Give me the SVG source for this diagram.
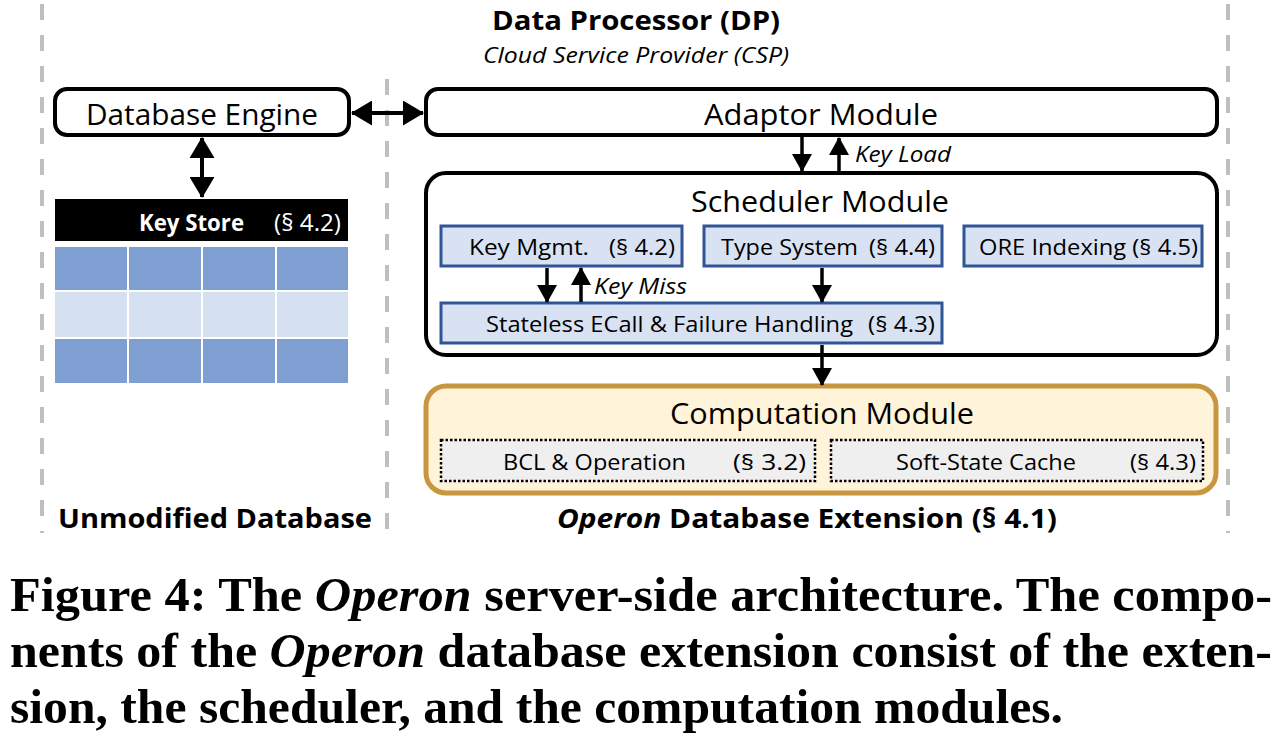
<svg xmlns="http://www.w3.org/2000/svg" width="1285" height="743" viewBox="0 0 1285 743">
<style>
.sans{font-family:"Open Sans","Noto Sans","Liberation Sans",sans-serif;fill:#000}
.b{font-weight:bold}
.i{font-style:italic}
.box{fill:#fff;stroke:#000;stroke-width:4}
.sub{fill:#d9e2f2;stroke:#2f5597;stroke-width:3}
.dot{fill:#efefef;stroke:#000;stroke-width:2.5;stroke-dasharray:2.5 2}
.sep{stroke:#bfbfbf;stroke-width:4;stroke-dasharray:16 15;fill:none}
.ln{stroke:#000;stroke-width:3.5;fill:none}
.lnb{stroke:#000;stroke-width:4;fill:none}
.cap{font-family:"Liberation Serif","DejaVu Serif",serif;font-weight:bold;font-size:48px;fill:#000}
</style>
<defs>
<marker id="ah" viewBox="0 0 18 20" refX="17" refY="10" markerWidth="18" markerHeight="20" markerUnits="userSpaceOnUse" orient="auto-start-reverse">
<path d="M0,0 L18,10 L0,20 z" fill="#000"/>
</marker>
<marker id="ahb" viewBox="0 0 21 25" refX="20" refY="12.5" markerWidth="21" markerHeight="25" markerUnits="userSpaceOnUse" orient="auto-start-reverse">
<path d="M0,0 L21,12.5 L0,25 z" fill="#000"/>
</marker>
</defs>
<rect width="1285" height="743" fill="#fff"/>

<g id="separators">
<line class="sep" x1="42" y1="4" x2="42" y2="533"/>
<line class="sep" x1="387" y1="79" x2="387" y2="533"/>
<line class="sep" x1="1228" y1="4" x2="1228" y2="533"/>
</g>

<g id="header">
<text class="sans b" x="636" y="30" font-size="26" text-anchor="middle" textLength="288" lengthAdjust="spacingAndGlyphs">Data Processor (DP)</text>
<text class="sans i" x="636" y="63" font-size="22" text-anchor="middle" textLength="306" lengthAdjust="spacingAndGlyphs">Cloud Service Provider (CSP)</text>
</g>

<g id="database-engine">
<rect class="box" x="55" y="89" width="294" height="46" rx="12"/>
<text class="sans" x="202" y="125" font-size="29" text-anchor="middle" textLength="232" lengthAdjust="spacingAndGlyphs">Database Engine</text>
</g>

<g id="key-store">
<rect x="55" y="199" width="293" height="42" fill="#000"/>
<text class="sans b" x="139" y="231" font-size="23" style="fill:#fff" textLength="105" lengthAdjust="spacingAndGlyphs">Key Store</text>
<text class="sans" x="274" y="231" font-size="23" style="fill:#fff" textLength="67" lengthAdjust="spacingAndGlyphs">(§ 4.2)</text>
<g fill="#7f9fd3">
<rect x="55" y="247" width="72" height="43"/><rect x="129" y="247" width="72" height="43"/><rect x="203" y="247" width="72" height="43"/><rect x="277" y="247" width="71" height="43"/>
<rect x="55" y="339" width="72" height="44"/><rect x="129" y="339" width="72" height="44"/><rect x="203" y="339" width="72" height="44"/><rect x="277" y="339" width="71" height="44"/>
</g>
<g fill="#d5e0f0">
<rect x="55" y="292" width="72" height="45"/><rect x="129" y="292" width="72" height="45"/><rect x="203" y="292" width="72" height="45"/><rect x="277" y="292" width="71" height="45"/>
</g>
</g>

<g id="adaptor-module">
<rect class="box" x="426" y="89" width="791" height="46" rx="12"/>
<text class="sans" x="821" y="125" font-size="29" text-anchor="middle" textLength="234" lengthAdjust="spacingAndGlyphs">Adaptor Module</text>
</g>

<g id="scheduler-module">
<rect class="box" x="426" y="173" width="791" height="182" rx="20"/>
<text class="sans" x="820" y="212" font-size="30" text-anchor="middle" textLength="258" lengthAdjust="spacingAndGlyphs">Scheduler Module</text>
</g>

<g id="key-mgmt">
<rect class="sub" x="441" y="226" width="241" height="40"/>
<text class="sans" x="469" y="255" font-size="22" textLength="120" lengthAdjust="spacingAndGlyphs">Key Mgmt.</text>
<text class="sans" x="609" y="255" font-size="22" textLength="66" lengthAdjust="spacingAndGlyphs">(§ 4.2)</text>
</g>

<g id="type-system">
<rect class="sub" x="704" y="226" width="238" height="40"/>
<text class="sans" x="721" y="255" font-size="22" textLength="137" lengthAdjust="spacingAndGlyphs">Type System</text>
<text class="sans" x="869" y="255" font-size="22" textLength="66" lengthAdjust="spacingAndGlyphs">(§ 4.4)</text>
</g>

<g id="ore-indexing">
<rect class="sub" x="964" y="226" width="238" height="40"/>
<text class="sans" x="979" y="255" font-size="22" textLength="219" lengthAdjust="spacingAndGlyphs">ORE Indexing (§ 4.5)</text>
</g>

<g id="stateless-ecall">
<rect class="sub" x="441" y="303" width="501" height="40"/>
<text class="sans" x="486" y="332" font-size="22" textLength="367" lengthAdjust="spacingAndGlyphs">Stateless ECall &amp; Failure Handling</text>
<text class="sans" x="868" y="332" font-size="22" textLength="67" lengthAdjust="spacingAndGlyphs">(§ 4.3)</text>
</g>

<g id="computation-module">
<rect x="426" y="386" width="790" height="107" rx="20" fill="#fff4d9" stroke="#c8963e" stroke-width="5"/>
<text class="sans" x="822" y="424" font-size="30" text-anchor="middle" textLength="304" lengthAdjust="spacingAndGlyphs">Computation Module</text>
</g>

<g id="bcl-operation">
<rect class="dot" x="441" y="440" width="374" height="41"/>
<text class="sans" x="503" y="470" font-size="22" textLength="183" lengthAdjust="spacingAndGlyphs">BCL &amp; Operation</text>
<text class="sans" x="733" y="470" font-size="22" textLength="73" lengthAdjust="spacingAndGlyphs">(§ 3.2)</text>
</g>

<g id="soft-state-cache">
<rect class="dot" x="831" y="440" width="372" height="41"/>
<text class="sans" x="896" y="470" font-size="22" textLength="180" lengthAdjust="spacingAndGlyphs">Soft-State Cache</text>
<text class="sans" x="1130" y="470" font-size="22" textLength="66" lengthAdjust="spacingAndGlyphs">(§ 4.3)</text>
</g>

<g id="connectors">
<line class="lnb" x1="352" y1="113" x2="423" y2="113" marker-start="url(#ahb)" marker-end="url(#ahb)"/>
<line class="lnb" x1="202" y1="138" x2="202" y2="197" marker-start="url(#ahb)" marker-end="url(#ahb)"/>
<line class="ln" x1="802" y1="137" x2="802" y2="171" marker-end="url(#ah)"/>
<line class="ln" x1="839" y1="171" x2="839" y2="138" marker-end="url(#ah)"/>
<line class="ln" x1="547" y1="268" x2="547" y2="302" marker-end="url(#ah)"/>
<line class="ln" x1="581" y1="302" x2="581" y2="268" marker-end="url(#ah)"/>
<line class="ln" x1="822" y1="268" x2="822" y2="302" marker-end="url(#ah)"/>
<line class="ln" x1="822" y1="345" x2="822" y2="385" marker-end="url(#ah)"/>
<text class="sans i" x="855" y="162" font-size="22" textLength="96" lengthAdjust="spacingAndGlyphs">Key Load</text>
<text class="sans i" x="594" y="294" font-size="22" textLength="93" lengthAdjust="spacingAndGlyphs">Key Miss</text>
</g>

<g id="region-labels">
<text class="sans b" x="58" y="528" font-size="26" textLength="314" lengthAdjust="spacingAndGlyphs">Unmodified Database</text>
<text class="sans b" x="557" y="528" font-size="26" textLength="500" lengthAdjust="spacingAndGlyphs"><tspan font-style="italic">Operon</tspan> Database Extension (§ 4.1)</text>
</g>

<g id="caption">
<text class="cap" x="10" y="611" textLength="1262" lengthAdjust="spacingAndGlyphs">Figure 4: The <tspan font-style="italic">Operon</tspan> server-side architecture. The compo-</text>
<text class="cap" x="10" y="667" textLength="1262" lengthAdjust="spacingAndGlyphs">nents of the <tspan font-style="italic">Operon</tspan> database extension consist of the exten-</text>
<text class="cap" x="10" y="723" textLength="1053" lengthAdjust="spacingAndGlyphs">sion, the scheduler, and the computation modules.</text>
</g>
</svg>
